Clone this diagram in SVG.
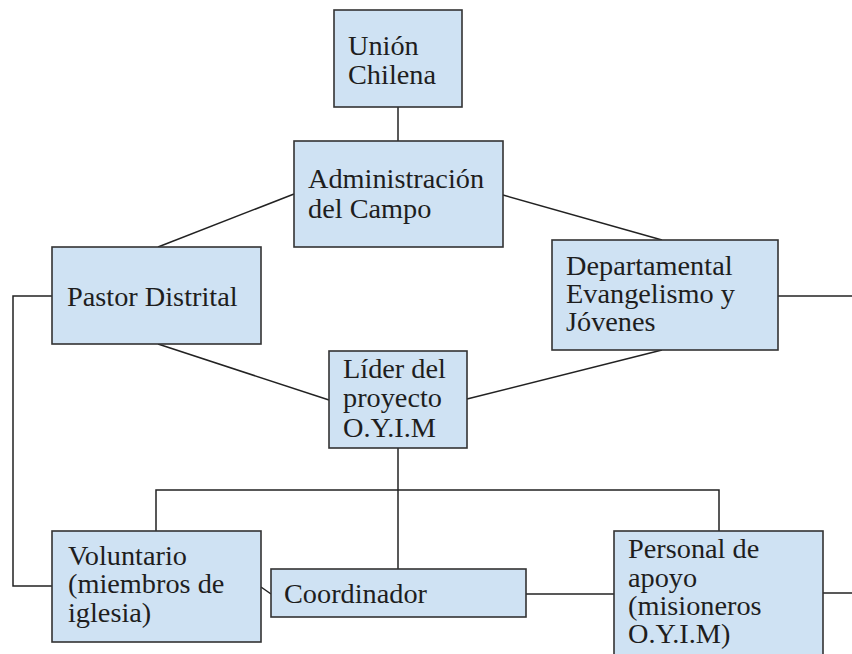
<svg xmlns="http://www.w3.org/2000/svg" width="852" height="654" viewBox="0 0 852 654">
<style>
.box{fill:#cfe2f3;stroke:#333;stroke-width:1.6}
.t{font-family:"Liberation Serif","Times New Roman",serif;font-size:28.3px;fill:#1e1e1e}
.c{fill:none;stroke:#222;stroke-width:1.5}
</style>
<rect width="852" height="654" fill="#fff"/>
<g id="connectors">
<line class="c" x1="398" y1="107" x2="398" y2="141"/>
<line class="c" x1="294" y1="194" x2="158" y2="247"/>
<line class="c" x1="503" y1="195" x2="662" y2="240"/>
<line class="c" x1="158" y1="344" x2="329" y2="400"/>
<line class="c" x1="662" y1="350" x2="467" y2="399"/>
<polyline class="c" points="52,296 13,296 13,586 52,586"/>
<line class="c" x1="778" y1="296" x2="852" y2="296"/>
<line class="c" x1="398" y1="448" x2="398" y2="569"/>
<polyline class="c" points="156,531 156,490 719,490 719,531"/>
<line class="c" x1="261" y1="587" x2="271" y2="594"/>
<line class="c" x1="526" y1="594" x2="614" y2="594"/>
<line class="c" x1="823" y1="593" x2="852" y2="593"/>
</g>
<g id="union">
<rect class="box" x="334" y="10" width="128" height="97"/>
<text class="t" x="348" y="55">Unión</text>
<text class="t" x="348" y="84">Chilena</text>
</g>
<g id="administracion">
<rect class="box" x="294" y="141" width="209" height="106"/>
<text class="t" x="308" y="188">Administración</text>
<text class="t" x="308" y="218">del Campo</text>
</g>
<g id="pastor">
<rect class="box" x="52" y="247" width="209" height="97"/>
<text class="t" x="67" y="306">Pastor Distrital</text>
</g>
<g id="departamental">
<rect class="box" x="552" y="240" width="226" height="110"/>
<text class="t" x="566" y="275">Departamental</text>
<text class="t" x="566" y="303">Evangelismo y</text>
<text class="t" x="566" y="331">Jóvenes</text>
</g>
<g id="lider">
<rect class="box" x="329" y="351" width="138" height="97"/>
<text class="t" x="343" y="378">Líder del</text>
<text class="t" x="343" y="407">proyecto</text>
<text class="t" x="343" y="437">O.Y.I.M</text>
</g>
<g id="voluntario">
<rect class="box" x="52" y="531" width="209" height="111"/>
<text class="t" x="68" y="565">Voluntario</text>
<text class="t" x="68" y="593">(miembros de</text>
<text class="t" x="68" y="622">iglesia)</text>
</g>
<g id="coordinador">
<rect class="box" x="271" y="569" width="255" height="48"/>
<text class="t" x="284" y="603">Coordinador</text>
</g>
<g id="personal">
<rect class="box" x="614" y="531" width="209" height="130"/>
<text class="t" x="628" y="558">Personal de</text>
<text class="t" x="628" y="587">apoyo</text>
<text class="t" x="628" y="615">(misioneros</text>
<text class="t" x="628" y="643">O.Y.I.M)</text>
</g>
</svg>
